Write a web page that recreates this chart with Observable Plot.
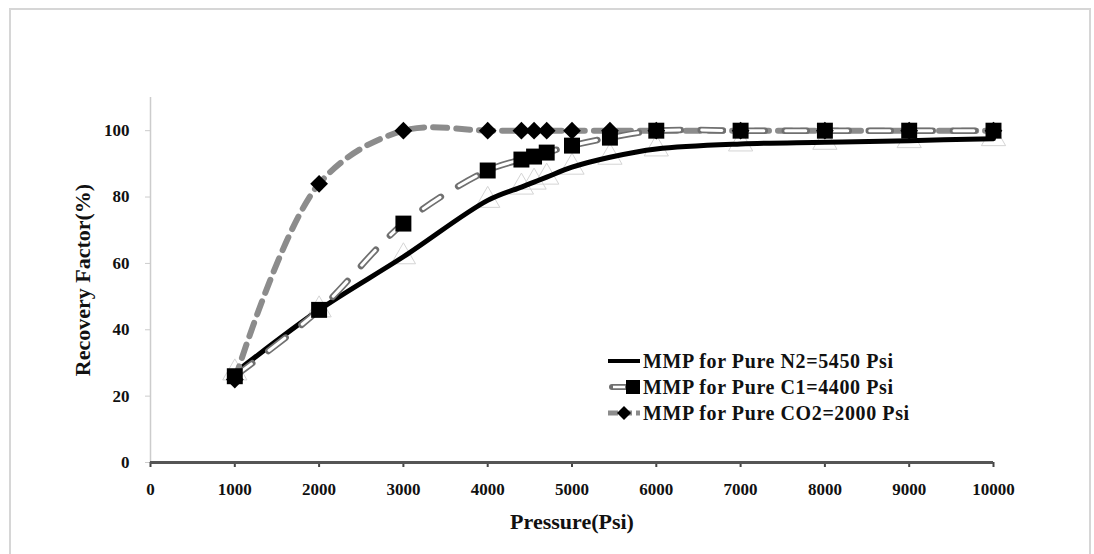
<!DOCTYPE html>
<html>
<head>
<meta charset="utf-8">
<script src="https://cdn.jsdelivr.net/npm/d3@7"></script>
<script src="https://cdn.jsdelivr.net/npm/@observablehq/plot@0.6"></script>
<style>
  html, body { margin: 0; padding: 0; background: #fff; }
  #wrap { position: relative; width: 1094px; height: 554px; overflow: hidden; }
  #frame { position: absolute; left: 9px; top: 8px; width: 1078px; height: 600px;
           border: 2px solid #d6d6d6; border-bottom: none; }
  #legend { position: absolute; left: 606px; top: 348px; font-family: "Liberation Serif", serif;
            font-weight: bold; font-size: 20px; letter-spacing: 0.6px; color: #111; line-height: 26px; }
  #legend .row { display: flex; align-items: center; height: 26px; }
  #legend svg { display: block; margin-right: 1px; }
</style>
</head>
<body>
<div id="wrap">
  <div id="frame"></div>
  <div id="chart"></div>
  <div id="legend"></div>
</div>
<script>
// Pressure (Psi) sample points
const pressures = [1000, 2000, 3000, 4000, 4400, 4550, 4700, 5000, 5450, 6000, 7000, 8000, 9000, 10000];
// Recovery factor (%) per series
const n2Values  = [27, 46, 62, 79, 83, 84.5, 86, 89, 92, 94.5, 96, 96.5, 97, 97.6];
const c1Values  = [26, 46, 72, 88, 91.3, 92.2, 93.4, 95.5, 97.9, 100, 100, 100, 100, 100];
const co2Values = [25, 84, 100, 100, 100, 100, 100, 100, 100, 100, 100, 100, 100, 100];
const seriesNames = ["MMP for Pure N2=5450 Psi", "MMP for Pure C1=4400 Psi", "MMP for Pure CO2=2000 Psi"];
const xTicks = [0, 1000, 2000, 3000, 4000, 5000, 6000, 7000, 8000, 9000, 10000];
const yTicks = [0, 20, 40, 60, 80, 100];

const n2  = pressures.map((p, i) => ({p, v: n2Values[i]}));
const c1  = pressures.map((p, i) => ({p, v: c1Values[i]}));
const co2 = pressures.map((p, i) => ({p, v: co2Values[i]}));

const font = "'Liberation Serif', serif";

const chart = Plot.plot({
  width: 1094,
  height: 554,
  marginLeft: 150,
  marginRight: 101,
  marginTop: 97,
  marginBottom: 92,
  style: {fontFamily: font, fontWeight: "bold", background: "transparent", color: "#111"},
  x: {domain: [0, 10000]},
  y: {domain: [0, 110]},
  marks: [
    Plot.axisY({ticks: yTicks, tickSize: 5, tickPadding: 16, fontSize: 17, label: null, stroke: "#ccc", tickFormat: d => String(d)}),
    Plot.axisX({ticks: xTicks, tickSize: 5, tickPadding: 15, fontSize: 17, label: null, stroke: "#444", strokeWidth: 2, tickFormat: d => String(d)}),
    Plot.ruleX([0], {stroke: "#ccc", strokeWidth: 1.5}),
    // N2 series: faint open triangles under smooth solid line
    Plot.dot(n2, {x: "p", y: "v", symbol: "triangle", r: 9, stroke: "#d4d4d4", strokeWidth: 1, fill: "none"}),
    Plot.line(n2, {x: "p", y: "v", curve: "catmull-rom", stroke: "#000", strokeWidth: 5}),
    // CO2 series: grey dashed
    Plot.line(co2, {x: "p", y: "v", curve: "catmull-rom", stroke: "#8c8c8c", strokeWidth: 6, strokeDasharray: "14,9"}),
    // C1 series: outlined dashes
    Plot.line(c1, {x: "p", y: "v", curve: "catmull-rom", stroke: "#707070", strokeWidth: 6.5, strokeDasharray: "22,20"}),
    Plot.line(c1, {x: "p", y: "v", curve: "catmull-rom", stroke: "#fff", strokeWidth: 3, strokeDasharray: "20,22", strokeDashoffset: -1}),
    Plot.dot(co2, {x: "p", y: "v", symbol: "diamond2", r: 8, fill: "#000", stroke: "none"}),
    Plot.dot(c1, {x: "p", y: "v", symbol: "square", r: 9, fill: "#000", stroke: "none"}),
    Plot.ruleY([0], {stroke: "#555", strokeWidth: 3}),
    Plot.text(["Pressure(Psi)"], {frameAnchor: "bottom", dy: 66, fontSize: 22, fill: "#111"}),
    Plot.text(["Recovery Factor(%)"], {frameAnchor: "left", textAnchor: "middle", dx: -68, rotate: -90, fontSize: 22, fill: "#111"})
  ]
});
document.getElementById("chart").appendChild(chart);

// Legend
const samples = [
  `<line x1="2" y1="10" x2="34" y2="10" stroke="#000" stroke-width="4"/>`,
  `<line x1="6" y1="10" x2="20" y2="10" stroke="#707070" stroke-width="6" stroke-linecap="round"/>
   <line x1="7" y1="10" x2="19" y2="10" stroke="#fff" stroke-width="2.5"/>
   <rect x="20" y="3" width="14" height="14" fill="#000"/>`,
  `<line x1="2" y1="10" x2="34" y2="10" stroke="#8c8c8c" stroke-width="5" stroke-dasharray="10,4"/>
   <path d="M18,3 L25,10 L18,17 L11,10 Z" fill="#000"/>`
];
const legend = document.getElementById("legend");
seriesNames.forEach((name, i) => {
  const row = document.createElement("div");
  row.className = "row";
  row.innerHTML = `<svg width="36" height="20">${samples[i]}</svg><span>${name}</span>`;
  legend.appendChild(row);
});
</script>
</body>
</html>
